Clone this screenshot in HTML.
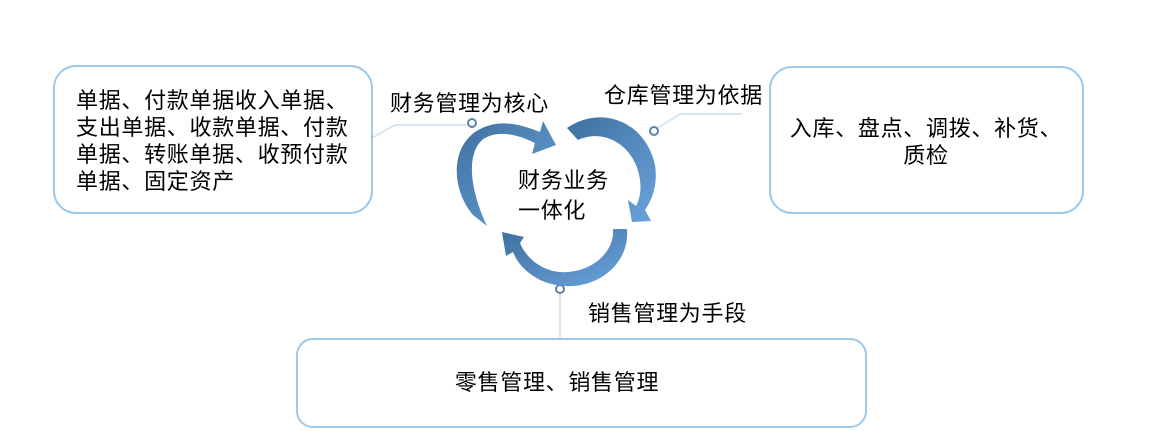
<!DOCTYPE html>
<html><head><meta charset="utf-8"><style>
body{margin:0;background:#fff;}
svg{display:block;}
text{font-family:"Liberation Sans","Noto Sans CJK SC",sans-serif;fill:#000;letter-spacing:0.7px;}
</style></head><body>
<svg width="1162" height="431" viewBox="0 0 1162 431">
<defs>
<linearGradient id="g" x1="0" y1="0" x2="1" y2="1">
<stop offset="0" stop-color="#3f6f9f"/><stop offset="1" stop-color="#6aa3dc"/>
</linearGradient>
</defs>
<polyline points="372,138 395,125 470,125" fill="none" stroke="#d6e6f4" stroke-width="2"/>
<circle cx="472" cy="123" r="4" fill="#fff" stroke="#5a84aa" stroke-width="2"/>
<polyline points="656,129 680,114 742,114" fill="none" stroke="#d6e6f4" stroke-width="2"/>
<circle cx="654" cy="131" r="4" fill="#fff" stroke="#5a84aa" stroke-width="2"/>
<line x1="560" y1="293" x2="560" y2="339" stroke="#d6e6f4" stroke-width="2"/>
<circle cx="560" cy="289" r="4" fill="#fff" stroke="#5a84aa" stroke-width="2"/>
<rect x="54" y="66" width="318" height="147" rx="22" fill="#fff" stroke="#9dc8ea" stroke-width="2"/>
<rect x="770" y="67" width="313" height="146" rx="22" fill="#fff" stroke="#9dc8ea" stroke-width="2"/>
<rect x="297" y="339" width="569" height="88" rx="16" fill="#fff" stroke="#9dc8ea" stroke-width="2"/>
<path d="M473,215 C452,190 450,150 475,132 C495,119 515,122 540,132 L543,121 L556,145 L532,154 L535,143 C515,133 495,130 482,140 C466,155 470,190 487,226 Z" fill="url(#g)"/>
<path d="M567,128 C600,105 645,120 655,165 C658,185 652,200 645,210 L651,221 L632,222 L628,200 L636,206 C642,195 642,180 636,165 C625,140 600,130 578,140 Z" fill="url(#g)"/>
<path d="M613,229 L627,229 C630,262 600,288 565,286 C540,285 520,270 513,252 L506,256 L502,232 L524,237 L520,243 C528,262 548,274 568,272 C595,270 615,250 613,229 Z" fill="url(#g)"/>
<g font-size="22">
<text x="76" y="108">单据、付款单据收入单据、</text>
<text x="76" y="135">支出单据、收款单据、付款</text>
<text x="76" y="162">单据、转账单据、收预付款</text>
<text x="76" y="189">单据、固定资产</text>
<text x="390" y="111">财务管理为核心</text>
<text x="604" y="103">仓库管理为依据</text>
<text x="588" y="321">销售管理为手段</text>
<text x="518" y="188">财务业务</text>
<text x="518" y="218">一体化</text>
<text x="926" y="136" text-anchor="middle">入库、盘点、调拨、补货、</text>
<text x="926" y="163" text-anchor="middle">质检</text>
<text x="557" y="390" text-anchor="middle">零售管理、销售管理</text>
</g>
</svg>
</body></html>
